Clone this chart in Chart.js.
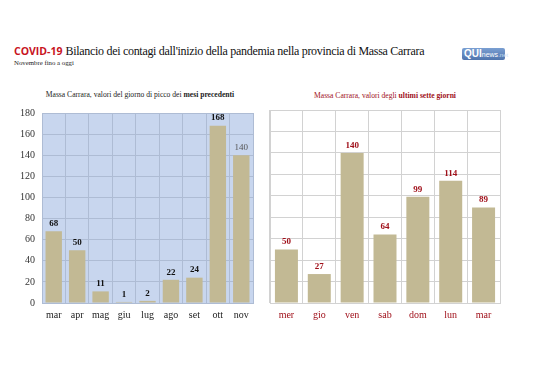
<!DOCTYPE html>
<html><head><meta charset="utf-8">
<script src="https://cdn.jsdelivr.net/npm/chart.js@4/dist/chart.umd.min.js"></script>
<style>
html,body{margin:0;padding:0;background:#fff;width:538px;height:380px;overflow:hidden;position:relative;font-family:"Liberation Serif",serif}
.abs{position:absolute;white-space:nowrap}
#title{left:14px;top:44px;font-size:12px;color:#111}
#title .t{letter-spacing:-0.3px}
#title b{font-family:"Open Sans",sans-serif;color:#c8141e;font-weight:700;font-size:10.5px}
#sub{left:14px;top:59px;font-size:6.8px;color:#222}
#logo{left:462px;top:48px;width:43px;height:12px;background:linear-gradient(#7a9fd2,#4f74ad);border-radius:2px;font-family:"Liberation Sans",sans-serif;font-size:9px;line-height:12px;color:#fff}
#st1{left:0;width:280px;text-align:center;top:90px;font-size:7.6px;color:#222}
#st2{left:262px;width:246px;text-align:center;top:91px;font-size:7.6px;color:#a0101a}
canvas{position:absolute}
</style></head><body>
<div id="title" class="abs"><b>COVID-19</b> <span class="t">Bilancio dei contagi dall'inizio della pandemia nella provincia di Massa Carrara</span></div>
<div id="sub" class="abs">Novembre fino a oggi</div>
<div id="logo" class="abs"><span style="font-weight:700;font-size:10px;margin-left:2px">QUI</span><span style="font-size:7px;color:#fff">news</span><span style="font-size:6px;color:#cfe0f5">.net</span></div>
<div id="st1" class="abs">Massa Carrara, valori del giorno di picco dei <b>mesi precedenti</b></div>
<div id="st2" class="abs">Massa Carrara, valori degli <b>ultimi sette giorni</b></div>
<div style="position:absolute;left:0;top:100px;width:262px;height:230px"><canvas id="c1"></canvas></div>
<div style="position:absolute;left:262px;top:100px;width:276px;height:230px"><canvas id="c2"></canvas></div>
<script>
const monthLabels = ["mar","apr","mag","giu","lug","ago","set","ott","nov"];
const monthPeaks = [68,50,11,1,2,22,24,168,140];
const dayLabels = ["mer","gio","ven","sab","dom","lun","mar"];
const dayValues = [50,27,140,64,99,114,89];
const yTicks = [0,20,40,60,80,100,120,140,160,180];

const SERIF = '"Liberation Serif", serif';
const BAR = '#c2b994';

function bgPlugin(color){
  return {id:'bg',beforeDraw(chart){
    const a=chart.chartArea,ctx=chart.ctx;ctx.save();ctx.fillStyle=color;
    ctx.fillRect(a.left,a.top,a.right-a.left,a.bottom-a.top);ctx.restore();}};
}
function labelPlugin(color, lastPlain){
  return {id:'lbl',afterDatasetsDraw(chart){
    const ctx=chart.ctx,meta=chart.getDatasetMeta(0),data=chart.data.datasets[0].data;
    ctx.save();ctx.textAlign='center';ctx.textBaseline='bottom';
    meta.data.forEach((bar,i)=>{
      const plain = lastPlain && i===data.length-1;
      ctx.font=(plain?'':'bold ')+'9px '+SERIF;
      ctx.fillStyle=plain?'#555':color;
      ctx.fillText(String(data[i]),bar.x,bar.y-3);
    });
    ctx.restore();}};
}
function makeChart(id, labels, values, opts){
  return new Chart(document.getElementById(id),{
    type:'bar',
    data:{labels:labels,datasets:[{data:values,backgroundColor:BAR,borderWidth:0,barPercentage:0.7,categoryPercentage:1}]},
    options:{
      responsive:true,maintainAspectRatio:false,animation:false,
      layout:{padding:{top:10,right:opts.padRight,left:0,bottom:0}},
      plugins:{legend:{display:false},tooltip:{enabled:false}},
      scales:{
        x:{grid:{color:opts.grid,drawTicks:false,offset:true},border:{color:opts.grid},
           ticks:{color:opts.xColor,font:{family:SERIF,size:10},padding:6},
           afterFit(s){s.height=27;}},
        y:{min:0,max:180,grid:{color:opts.grid,drawTicks:false},border:{color:opts.grid},
           afterBuildTicks(s){s.ticks=yTicks.map(v=>({value:v}));},
           ticks:{display:opts.yLabels,color:'#333',font:{family:SERIF,size:10},padding:7},
           afterFit(s){s.width=opts.yWidth;}}
      }
    },
    plugins:[bgPlugin(opts.bg),labelPlugin(opts.lblColor,opts.lastPlain)]
  });
}
makeChart('c1',monthLabels,monthPeaks,{padRight:9,grid:'#aebcd4',bg:'#c8d6ee',xColor:'#222',yLabels:true,yWidth:42,lblColor:'#111',lastPlain:true});
makeChart('c2',dayLabels,dayValues,{padRight:38,grid:'#d2d2d2',bg:'#ffffff',xColor:'#a0101a',yLabels:false,yWidth:8,lblColor:'#a0101a',lastPlain:false});
</script>
</body></html>
